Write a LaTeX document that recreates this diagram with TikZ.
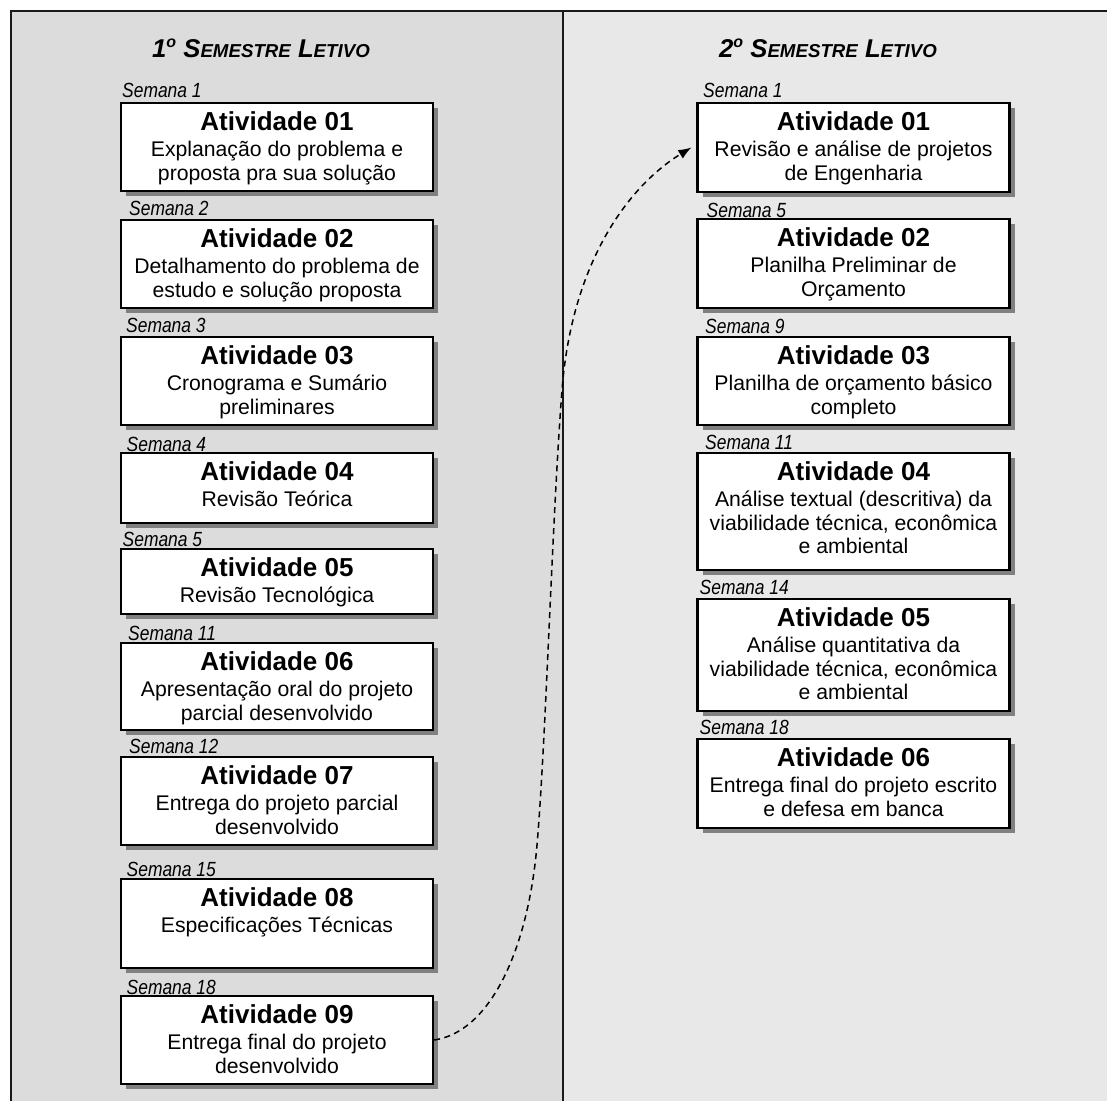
\documentclass[tikz,border=0pt]{standalone}
\usepackage{fontspec}
\setmainfont{Liberation Sans}
\newfontfamily\semfont[FakeStretch=0.85]{Liberation Sans}
\usetikzlibrary{shadows,arrows.meta}
\definecolor{leftpanel}{RGB}{220,220,220}
\definecolor{rightpanel}{RGB}{232,232,232}
\definecolor{framecol}{RGB}{26,26,26}
\newcommand{\titlef}{\fontsize{26}{30}\selectfont\bfseries}
\newcommand{\subf}{\fontsize{21.2}{23.5}\selectfont\mdseries}
\newcommand{\act}[3]{\parbox[c][#1pt][t]{312pt}{\lineskiplimit=-20pt\centering\rule{0pt}{27.5pt}{\titlef #2}\\[2.5pt]\subf #3\par}}
\newcommand{\semhead}[1]{\bfseries\itshape\fontsize{25.7}{30}\selectfont #1\raisebox{9.5pt}{\fontsize{16}{16}\selectfont o} S{\fontsize{18.7}{22}\selectfont EMESTRE} L{\fontsize{18.7}{22}\selectfont ETIVO}}
\tikzset{
  actbox/.style={draw=black, line width=2.2pt, fill=white, inner sep=0pt,
    drop shadow={shadow xshift=5pt, shadow yshift=-5pt, fill=black!50, opacity=1}},
  semlabel/.style={anchor=base west, inner sep=0pt, font=\semfont\itshape\fontsize{20.5}{22}\selectfont},
  headlabel/.style={anchor=base, inner sep=0pt},
  frameline/.style={draw=framecol, line width=2pt},
  flowarrow/.style={draw=black, line width=1.5pt, dash pattern=on 6pt off 4.5pt,
    -{Latex[length=13pt,width=10pt]}}
}
\begin{document}
\begin{tikzpicture}[x=1pt,y=-1pt]
\useasboundingbox (0,0) rectangle (1107,1101);
% panels
\fill[leftpanel] (11,11) rectangle (563,1101);
\fill[rightpanel] (563,11) rectangle (1107,1101);
\draw[frameline] (11,1101) -- (11,11) -- (1107,11);
\draw[frameline] (563,11) -- (563,1101);
% headers
\node[headlabel] (h1) at (261,57) {\semhead{1}};
\node[headlabel] (h2) at (828,57) {\semhead{2}};
% left column
\node[semlabel] (ls1) at (122,97) {Semana 1};
\node[actbox] (a1) at (277,147) {\act{88}{Atividade 01}{Explanação do problema e\\proposta pra sua solução}};
\node[semlabel] (ls2) at (129,215.5) {Semana 2};
\node[actbox] (a2) at (277,264) {\act{88}{Atividade 02}{Detalhamento do problema de\\estudo e solução proposta}};
\node[semlabel] (ls3) at (126,332) {Semana 3};
\node[actbox] (a3) at (277,381) {\act{88}{Atividade 03}{Cronograma e Sumário\\preliminares}};
\node[semlabel] (ls4) at (126.5,451) {Semana 4};
\node[actbox] (a4) at (277,488) {\act{70}{Atividade 04}{Revisão Teórica}};
\node[semlabel] (ls5) at (122.5,546.5) {Semana 5};
\node[actbox] (a5) at (277,581.5) {\act{65}{Atividade 05}{Revisão Tecnológica}};
\node[semlabel] (ls6) at (128,640.5) {Semana 11};
\node[actbox] (a6) at (277,686.5) {\act{87}{Atividade 06}{Apresentação oral do projeto\\parcial desenvolvido}};
\node[semlabel] (ls7) at (129,753.5) {Semana 12};
\node[actbox] (a7) at (277,801) {\act{88}{Atividade 07}{Entrega do projeto parcial\\desenvolvido}};
\node[semlabel] (ls8) at (126.5,876.5) {Semana 15};
\node[actbox] (a8) at (277,923.5) {\act{89}{Atividade 08}{Especificações Técnicas}};
\node[semlabel] (ls9) at (126.5,994) {Semana 18};
\node[actbox] (a9) at (277,1040) {\act{88}{Atividade 09}{Entrega final do projeto\\desenvolvido}};
% right column
\node[semlabel] (rs1) at (703,97) {Semana 1};
\node[actbox] (r1) at (853.5,147.5) {\act{89}{Atividade 01}{Revisão e análise de projetos\\de Engenharia}};
\node[semlabel] (rs2) at (706.5,217.5) {Semana 5};
\node[actbox] (r2) at (853.5,263.5) {\act{89}{Atividade 02}{Planilha Preliminar de\\Orçamento}};
\node[semlabel] (rs3) at (705,333.5) {Semana 9};
\node[actbox] (r3) at (853.5,381) {\act{88}{Atividade 03}{Planilha de orçamento básico\\completo}};
\node[semlabel] (rs4) at (705,449.5) {Semana 11};
\node[actbox] (r4) at (853.5,511.5) {\act{117}{Atividade 04}{Análise textual (descritiva) da\\viabilidade técnica, econômica\\e ambiental}};
\node[semlabel] (rs5) at (699.5,594.5) {Semana 14};
\node[actbox] (r5) at (853.5,655) {\act{112}{Atividade 05}{Análise quantitativa da\\viabilidade técnica, econômica\\e ambiental}};
\node[semlabel] (rs6) at (699.5,734) {Semana 18};
\node[actbox] (r6) at (853.5,783.5) {\act{89}{Atividade 06}{Entrega final do projeto escrito\\e defesa em banca}};
% connector
\draw[flowarrow] (a9.east) .. controls (490,1032) and (528,950) .. (537,845)
  .. controls (546,740) and (552,520) .. (562,390)
  .. controls (572,260) and (630,185) .. ([xshift=-5pt]r1.west);
\end{tikzpicture}
\end{document}
